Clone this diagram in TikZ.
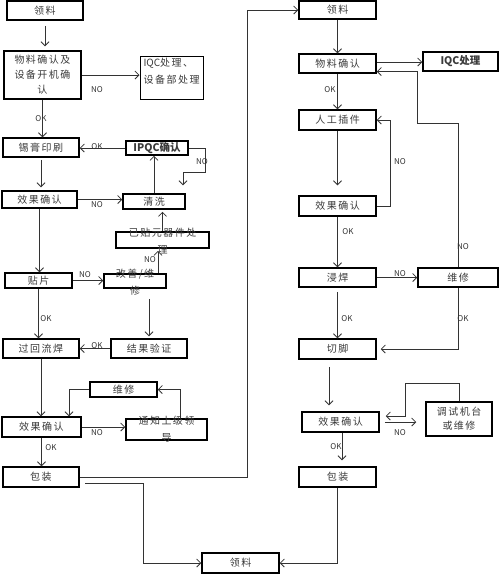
\documentclass[tikz,border=0pt]{standalone}
\usepackage{fontspec}
\setmainfont{Noto Sans CJK SC}[LetterSpace=15]
\newfontfamily\labfont{Noto Sans CJK SC}
\usetikzlibrary{arrows.meta,calc}
\definecolor{txt}{HTML}{3A3A3A}
\definecolor{ln}{HTML}{333333}
\begin{document}
\begin{tikzpicture}[x=1pt,y=-1pt,
  bx/.style={draw=black,line width=1.5pt,inner sep=0pt,text=txt,align=center,
    font=\fontsize{10}{15}\selectfont},
  bxb/.style={bx,font=\labfont\fontsize{10.5}{15}\selectfont\bfseries},
  txtonly/.style={inner sep=0pt,text=txt,font=\fontsize{10}{17}\selectfont},
  ar/.style={draw=ln,line width=0.8pt,-{Straight Barb[length=4pt,width=8pt]}},
  lab/.style={inner sep=0pt,text=ln,font=\labfont\fontsize{8}{8}\selectfont}]
\useasboundingbox (0,0) rectangle (500,574);
% left column
\node[bx,minimum width=76pt,minimum height=19pt] (L1) at (45,10.5) {领料};
\node[bx,minimum width=77pt,minimum height=48pt] (L2) at (42.5,75) {物料确认及\\设备开机确\\认};
\node[bx,line width=1pt,minimum width=63pt,minimum height=43pt] (L3) at (171.5,77.5) {};
\node[txtonly,align=left] at (171.5,71.5) {{\labfont IQC}处理、\\设备部处理};
\node[bx,minimum width=76pt,minimum height=19pt] (L4) at (41,147.5) {锡膏印刷};
\node[bxb,minimum width=62pt,minimum height=14pt] (L5) at (157,148) {IPQC确认};
\node[bx,minimum width=75pt,minimum height=17pt] (L6) at (39.5,199.5) {效果确认};
\node[bx,minimum width=62pt,minimum height=15pt] (L7) at (154,201.5) {清洗};
\node[bx,minimum width=93pt,minimum height=16pt] (L8) at (162.5,240) {};
\node[txtonly,align=center] at (162.5,241.5) {已贴元器件处\\理};
\node[bx,minimum width=67pt,minimum height=15pt] (L9) at (38.5,280.5) {贴片};
\node[bx,minimum width=62pt,minimum height=14pt] (L10) at (135,281) {};
\node[txtonly,align=center] at (135,282.5) {改善/维\\修};
\node[bx,minimum width=76pt,minimum height=19pt] (L11) at (149,348.5) {结果验证};
\node[bx,minimum width=76pt,minimum height=19pt] (L12) at (41,348.5) {过回流焊};
\node[bx,minimum width=67pt,minimum height=15pt] (L13) at (123.5,389.5) {维修};
\node[bx,minimum width=79pt,minimum height=20pt] (L14) at (41.5,427) {效果确认};
\node[bx,minimum width=81pt,minimum height=21pt] (L15) at (166.5,429.5) {};
\node[txtonly,align=center] at (166.5,429) {通知上级领\\导};
\node[bx,minimum width=76pt,minimum height=20pt] (L16) at (41,477) {包装};
% right column
\node[bx,minimum width=77pt,minimum height=18pt] (R1) at (337.5,10) {领料};
\node[bx,minimum width=77pt,minimum height=19pt] (R2) at (337.5,63.5) {物料确认};
\node[bxb,minimum width=75pt,minimum height=19pt] (R3) at (460.5,61.5) {IQC处理};
\node[bx,minimum width=77pt,minimum height=20pt] (R4) at (337.5,120) {人工插件};
\node[bx,minimum width=77pt,minimum height=20pt] (R5) at (337.5,206) {效果确认};
\node[bx,minimum width=77pt,minimum height=19pt] (R6) at (337.5,277.5) {浸焊};
\node[bx,minimum width=80pt,minimum height=19pt] (R7) at (458,277.5) {维修};
\node[bx,minimum width=77pt,minimum height=20pt] (R8) at (337.5,349) {切脚};
\node[bx,minimum width=77pt,minimum height=20pt] (R9) at (340.5,422) {效果确认};
\node[bx,minimum width=66pt,minimum height=34pt,font=\fontsize{10}{14}\selectfont] (R10) at (459,419) {调试机台\\或维修};
\node[bx,minimum width=77pt,minimum height=20pt] (R11) at (337.5,477) {包装};
\node[bx,minimum width=77pt,minimum height=20pt] (B) at (240.5,563) {领料};
% coordinates
\coordinate (v0) at (85,483);
\coordinate (d1) at (417,123);
\coordinate (i1) at (405,383);
% left connectors
\draw[ar,shorten <=5pt,shorten >=4pt] (L1.south) -- (L1.south |- L2.north);
\draw[ar] (L2.east) -- (L2.east -| L3.west);
\draw[ar] (L2.south) -- (L2.south |- L4.north);
\draw[ar] (L5.west) -- (L5.west -| L4.east);
\draw[ar,shorten >=8pt] (L5.east) -| (205,172) -| ([xshift=29pt]L7.north);
\draw[ar,shorten <=2pt,shorten >=3pt] (L4.south) -- (L4.south |- L6.north);
\draw[ar] (L6.east) -- (L6.east -| L7.west);
\draw[ar] (L7.north) -- (L7.north |- L5.south);
\draw[ar,shorten >=2pt] (L8.north) -- (L8.north |- L7.south);
\draw[ar,shorten >=2pt] ([xshift=23pt]L10.north) -- ([xshift=23pt]L10.north |- L8.south);
\draw[ar] (L6.south) -- (L6.south |- L9.north);
\draw[ar] (L9.east) -- (L9.east -| L10.west);
\draw[ar,shorten <=10pt,shorten >=2pt] ([xshift=14pt]L10.south) -- ([xshift=14pt]L10.south |- L11.north);
\draw[ar] (L11.west) -- (L11.west -| L12.east);
\draw[ar] (L9.south) -- (L9.south |- L12.north);
\draw[ar] (L12.south) -- (L12.south |- L14.north);
\draw[ar] (L13.west) -| ([xshift=27.5pt]L14.north);
\draw[ar] (L14.east) -- (L14.east -| L15.west);
\draw[ar] ([xshift=13.5pt]L15.north) |- (L13.east);
\draw[ar] (L14.south) -- (L14.south |- L16.north);
\draw[ar] (L16.east) -| ($(R1.west)+(-51,0)$) -- (R1.west);
\draw[ar] (v0) -| ($(B.west)+(-58,0)$) -- (B.west);
% right connectors
\draw[ar] (R1.south) -- (R2.north);
\draw[ar] ([yshift=1.5pt]R2.east) -- ([yshift=1.5pt]R2.east -| R3.west);
\draw[ar] (R2.south) -- (R4.north);
\draw[ar,shorten >=10pt] (R4.south) -- (R5.north);
\draw[ar] (R5.east) -| ($(R4.east)+(14,0)$) -- (R4.east);
\draw[ar] (R5.south) -- (R6.north);
\draw[ar] (R6.east) -- (R7.west);
\draw[ar] (R7.north) |- (d1) |- ([yshift=-8pt]R2.east);
\draw[ar,shorten >=4pt] (R7.south) |- (R8.east);
\draw[ar,shorten <=4pt] (R6.south) -- (R8.north);
\draw[ar,shorten <=7pt,shorten >=6pt] ([xshift=-8.5pt]R8.south) -- ([xshift=-8.5pt]R8.south |- R9.north);
\draw[ar,shorten <=5pt,shorten >=9pt] (R9.east) -- (R9.east -| R10.west);
\draw[ar] (R10.north) |- (i1) |- ([xshift=6pt,yshift=6pt]R9.east);
\draw[ar,shorten >=6pt] ([xshift=1.5pt]R9.south) -- ([xshift=1.5pt]R9.south |- R11.north);
\draw[ar] (R11.south) |- (B.east);
% labels
\node[lab] (n1) at (97,90) {NO};
\node[lab] (o1) at (41,119) {OK};
\node[lab] (o2) at (97,147) {OK};
\node[lab] (n2) at (202,162) {NO};
\node[lab] (n3) at (97,205) {NO};
\node[lab] (n4) at (150,260) {NO};
\node[lab] (n5) at (85,275) {NO};
\node[lab] (o3) at (46,319) {OK};
\node[lab] (o4) at (97,346) {OK};
\node[lab] (n6) at (97,433) {NO};
\node[lab] (o5) at (51,448) {OK};
\node[lab] (o6) at (330,90) {OK};
\node[lab] (n7) at (400,162) {NO};
\node[lab] (o7) at (348,232) {OK};
\node[lab] (n8) at (400,274) {NO};
\node[lab] (n9) at (463,247) {NO};
\node[lab] (o8) at (463,319) {OK};
\node[lab] (o9) at (347,319) {OK};
\node[lab] (n10) at (400,433) {NO};
\node[lab] (o10) at (336,447) {OK};
\end{tikzpicture}
\end{document}
